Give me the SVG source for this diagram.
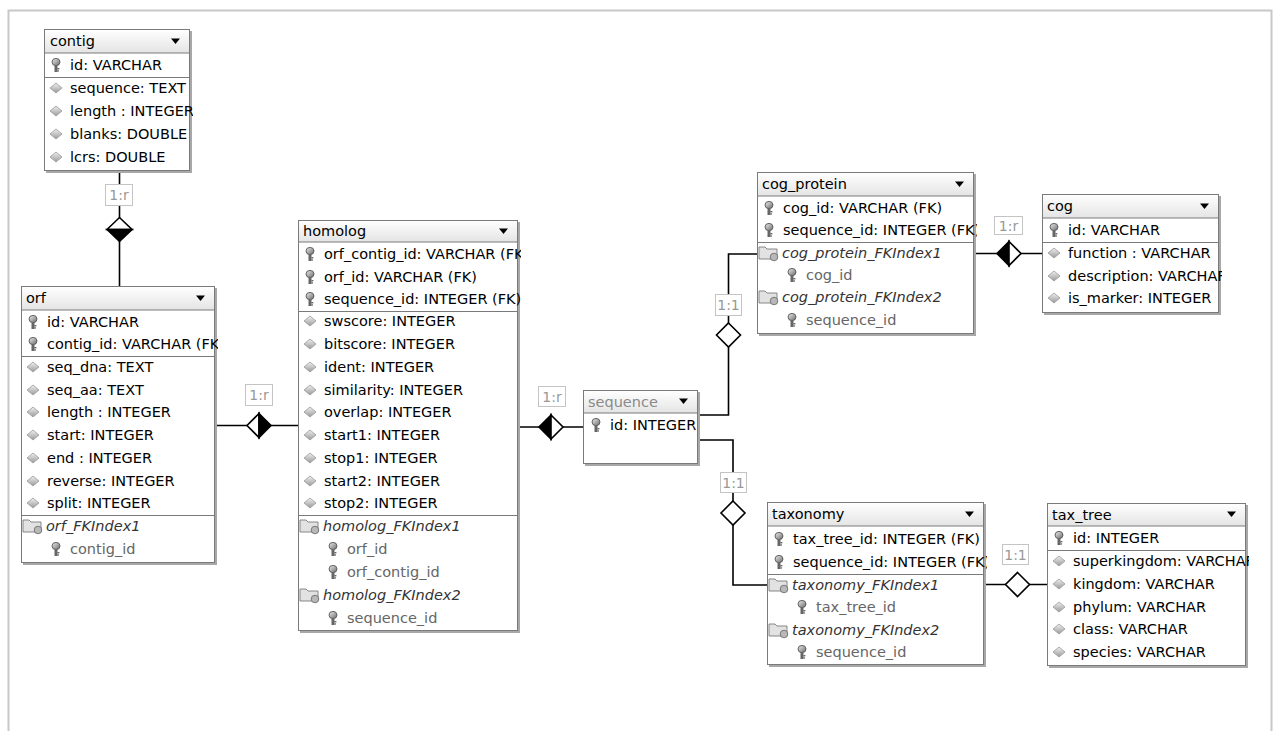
<svg xmlns="http://www.w3.org/2000/svg" xmlns:xlink="http://www.w3.org/1999/xlink" width="1273" height="731" viewBox="0 0 1273 731">
<style>
.t{font-family:"DejaVu Sans","Liberation Sans",sans-serif;font-size:14.5px;fill:#000}
.hg{fill:#8a8a8a}
.ix{font-style:italic;fill:#333}
.ik{fill:#666}
.box{fill:#fff;stroke:#7a7a7a;stroke-width:1}
.shadow{fill:#a8a8a8}
.hdr{fill:url(#hgrad);stroke:#7a7a7a;stroke-width:1}
.sep{stroke:#7a7a7a;stroke-width:1}
.ln{fill:none;stroke:#000;stroke-width:1.6}
.dm{stroke:#000;stroke-width:1.6}
.lb{fill:#fff;stroke:#c4c4c4;stroke-width:1}
.lt{font-family:"DejaVu Sans","Liberation Sans",sans-serif;font-size:14px;fill:#999;text-anchor:middle}
.tri{fill:#000}
</style>
<defs>
<linearGradient id="hgrad" x1="0" y1="0" x2="0" y2="1"><stop offset="0" stop-color="#ffffff"/><stop offset="1" stop-color="#e4e4e4"/></linearGradient>
<linearGradient id="kg" x1="0" y1="0" x2="1" y2="1"><stop offset="0" stop-color="#eeeeee"/><stop offset="1" stop-color="#6a6a6a"/></linearGradient>
<linearGradient id="dg" x1="0" y1="0" x2="0" y2="1"><stop offset="0" stop-color="#f0f0f0"/><stop offset="1" stop-color="#9a9a9a"/></linearGradient>
<g id="key"><ellipse cx="0" cy="-3" rx="4" ry="3.6" fill="url(#kg)" stroke="#555" stroke-width="0.9"/><rect x="-1.5" y="0" width="3" height="7" fill="#666"/><rect x="1.4" y="3" width="2" height="1.4" fill="#666"/><rect x="1.4" y="5.3" width="1.6" height="1.3" fill="#666"/></g>
<g id="att"><polygon points="0,-5 6,0 0,5 -6,0" fill="url(#dg)" stroke="#999" stroke-width="0.8"/></g>
<g id="fld"><path d="M-9,-6 h6 l2,2 h10 v10 h-18 z" fill="#e2e2e2" stroke="#7a7a7a" stroke-width="0.9"/><circle cx="6" cy="4" r="3.8" fill="#b8b8b8" stroke="#666" stroke-width="0.8"/></g>
<clipPath id="c-contig"><rect x="44" y="29" width="149" height="145"/></clipPath>
<clipPath id="c-orf"><rect x="21" y="286" width="197" height="280"/></clipPath>
<clipPath id="c-homolog"><rect x="298" y="220" width="223" height="414"/></clipPath>
<clipPath id="c-sequence"><rect x="583" y="390" width="118" height="77"/></clipPath>
<clipPath id="c-cogp"><rect x="757" y="172" width="220" height="165"/></clipPath>
<clipPath id="c-cog"><rect x="1042" y="194" width="180" height="122"/></clipPath>
<clipPath id="c-tax"><rect x="767" y="502" width="220" height="166"/></clipPath>
<clipPath id="c-taxtree"><rect x="1047" y="503" width="202" height="166"/></clipPath>
</defs>
<rect x="0" y="0" width="1273" height="731" fill="#fff"/>
<path d="M8.5,731 V10.5 H1271.5 V731" fill="none" stroke="#c8c8c8" stroke-width="2"/>

<g id="connectors">
<line class="ln" x1="119.5" y1="172" x2="119.5" y2="286"/>
<rect class="lb" x="105.5" y="184.5" width="27" height="21"/>
<text class="lt" x="119" y="200">1:r</text>
<polygon points="107,229.5 119.5,217.5 132,229.5" fill="#fff" class="dm"/>
<polygon points="107,229.5 119.5,241.5 132,229.5" fill="#000" class="dm"/>
<line class="ln" x1="214" y1="425.5" x2="298" y2="425.5"/>
<rect class="lb" x="245.5" y="384.5" width="27" height="21"/>
<text class="lt" x="259" y="400">1:r</text>
<polygon points="259,413.5 247,425.5 259,437.5" fill="#fff" class="dm"/>
<polygon points="259,413.5 271,425.5 259,437.5" fill="#000" class="dm"/>
<line class="ln" x1="517" y1="427" x2="583" y2="427"/>
<rect class="lb" x="538.5" y="386.5" width="27" height="20"/>
<text class="lt" x="552" y="401.5">1:r</text>
<polygon points="551,415 539,427 551,439" fill="#000" class="dm"/>
<polygon points="551,415 563,427 551,439" fill="#fff" class="dm"/>
<polyline class="ln" points="697,415 728.5,415 728.5,254 757,254"/>
<rect class="lb" x="715.5" y="294.5" width="26" height="21"/>
<text class="lt" x="728.5" y="310">1:1</text>
<polygon points="728.5,323 740.5,335 728.5,347 716.5,335" fill="#fff" class="dm"/>
<polyline class="ln" points="697,440 733,440 733,585 767,585"/>
<rect class="lb" x="720.5" y="472.5" width="26" height="20"/>
<text class="lt" x="733.5" y="487.5">1:1</text>
<polygon points="733,501 745,513 733,525 721,513" fill="#fff" class="dm"/>
<line class="ln" x1="973" y1="253.5" x2="1042" y2="253.5"/>
<rect class="lb" x="994.5" y="216.5" width="28" height="18"/>
<text class="lt" x="1008.5" y="230.5">1:r</text>
<polygon points="1009,241.5 997,253.5 1009,265.5" fill="#000" class="dm"/>
<polygon points="1009,241.5 1021,253.5 1009,265.5" fill="#fff" class="dm"/>
<line class="ln" x1="983" y1="584.5" x2="1047" y2="584.5"/>
<rect class="lb" x="1002.5" y="544.5" width="26" height="20"/>
<text class="lt" x="1015.5" y="559.5">1:1</text>
<polygon points="1017.5,572.5 1029.5,584.5 1017.5,596.5 1005.5,584.5" fill="#fff" class="dm"/>
</g>

<g id="contig">
<rect class="shadow" x="46" y="31" width="146" height="142"/>
<rect class="box" x="44.5" y="29.5" width="145" height="141"/>
<rect class="hdr" x="44.5" y="29.5" width="145" height="23.5"/>
<polygon class="tri" points="171,38.5 180,38.5 175.5,44"/>
<g clip-path="url(#c-contig)">
<text class="t" x="50" y="46">contig</text>
<use href="#key" x="56" y="65"/><text class="t" x="70" y="70">id: VARCHAR</text>
<line class="sep" x1="44.5" y1="77.5" x2="189.5" y2="77.5"/>
<use href="#att" x="56" y="88"/><text class="t" x="70" y="93">sequence: TEXT</text>
<use href="#att" x="56" y="111"/><text class="t" x="70" y="116">length : INTEGER</text>
<use href="#att" x="56" y="134"/><text class="t" x="70" y="139">blanks: DOUBLE</text>
<use href="#att" x="56" y="157"/><text class="t" x="70" y="162">lcrs: DOUBLE</text>
</g>
</g>

<g id="orf">
<rect class="shadow" x="23" y="288" width="194" height="277"/>
<rect class="box" x="21.5" y="286.5" width="193" height="276"/>
<rect class="hdr" x="21.5" y="286.5" width="193" height="23.5"/>
<polygon class="tri" points="196,295.5 205,295.5 200.5,301"/>
<g clip-path="url(#c-orf)">
<text class="t" x="26" y="303">orf</text>
<use href="#key" x="33" y="322"/><text class="t" x="47" y="327">id: VARCHAR</text>
<use href="#key" x="33" y="344"/><text class="t" x="47" y="349">contig_id: VARCHAR (FK)</text>
<line class="sep" x1="21.5" y1="356.5" x2="214.5" y2="356.5"/>
<use href="#att" x="33" y="367"/><text class="t" x="47" y="372">seq_dna: TEXT</text>
<use href="#att" x="33" y="390"/><text class="t" x="47" y="395">seq_aa: TEXT</text>
<use href="#att" x="33" y="412"/><text class="t" x="47" y="417">length : INTEGER</text>
<use href="#att" x="33" y="435"/><text class="t" x="47" y="440">start: INTEGER</text>
<use href="#att" x="33" y="458"/><text class="t" x="47" y="463">end : INTEGER</text>
<use href="#att" x="33" y="481"/><text class="t" x="47" y="486">reverse: INTEGER</text>
<use href="#att" x="33" y="503"/><text class="t" x="47" y="508">split: INTEGER</text>
<line class="sep" x1="21.5" y1="515.5" x2="214.5" y2="515.5"/>
<use href="#fld" x="32" y="526"/><text class="t ix" x="46" y="531">orf_FKIndex1</text>
<use href="#key" x="56" y="549"/><text class="t ik" x="70" y="554">contig_id</text>
</g>
</g>

<g id="homolog">
<rect class="shadow" x="300" y="222" width="220" height="411"/>
<rect class="box" x="298.5" y="220.5" width="219" height="410"/>
<rect class="hdr" x="298.5" y="220.5" width="219" height="21.5"/>
<polygon class="tri" points="499,228.5 508,228.5 503.5,234"/>
<g clip-path="url(#c-homolog)">
<text class="t" x="303" y="236">homolog</text>
<use href="#key" x="310" y="254"/><text class="t" x="324" y="259">orf_contig_id: VARCHAR (FK)</text>
<use href="#key" x="310" y="277"/><text class="t" x="324" y="282">orf_id: VARCHAR (FK)</text>
<use href="#key" x="310" y="299"/><text class="t" x="324" y="304">sequence_id: INTEGER (FK)</text>
<line class="sep" x1="298.5" y1="311.5" x2="517.5" y2="311.5"/>
<use href="#att" x="310" y="321"/><text class="t" x="324" y="326">swscore: INTEGER</text>
<use href="#att" x="310" y="344"/><text class="t" x="324" y="349">bitscore: INTEGER</text>
<use href="#att" x="310" y="367"/><text class="t" x="324" y="372">ident: INTEGER</text>
<use href="#att" x="310" y="390"/><text class="t" x="324" y="395">similarity: INTEGER</text>
<use href="#att" x="310" y="412"/><text class="t" x="324" y="417">overlap: INTEGER</text>
<use href="#att" x="310" y="435"/><text class="t" x="324" y="440">start1: INTEGER</text>
<use href="#att" x="310" y="458"/><text class="t" x="324" y="463">stop1: INTEGER</text>
<use href="#att" x="310" y="481"/><text class="t" x="324" y="486">start2: INTEGER</text>
<use href="#att" x="310" y="503"/><text class="t" x="324" y="508">stop2: INTEGER</text>
<line class="sep" x1="298.5" y1="515.5" x2="517.5" y2="515.5"/>
<use href="#fld" x="309" y="526"/><text class="t ix" x="323" y="531">homolog_FKIndex1</text>
<use href="#key" x="333" y="549"/><text class="t ik" x="347" y="554">orf_id</text>
<use href="#key" x="333" y="572"/><text class="t ik" x="347" y="577">orf_contig_id</text>
<use href="#fld" x="309" y="595"/><text class="t ix" x="323" y="600">homolog_FKIndex2</text>
<use href="#key" x="333" y="618"/><text class="t ik" x="347" y="623">sequence_id</text>
</g>
</g>

<g id="sequence">
<rect class="shadow" x="585" y="392" width="115" height="74"/>
<rect class="box" x="583.5" y="390.5" width="114" height="73"/>
<rect class="hdr" x="583.5" y="390.5" width="114" height="22.5"/>
<polygon class="tri" points="679,398.5 688,398.5 683.5,404"/>
<g clip-path="url(#c-sequence)">
<text class="t hg" x="588" y="407">sequence</text>
<use href="#key" x="596" y="425"/><text class="t" x="610" y="430">id: INTEGER</text>
</g>
</g>

<g id="cog_protein">
<rect class="shadow" x="759" y="174" width="217" height="162"/>
<rect class="box" x="757.5" y="172.5" width="216" height="161"/>
<rect class="hdr" x="757.5" y="172.5" width="216" height="23.5"/>
<polygon class="tri" points="955,181.5 964,181.5 959.5,187"/>
<g clip-path="url(#c-cogp)">
<text class="t" x="762" y="189">cog_protein</text>
<use href="#key" x="769" y="208"/><text class="t" x="783" y="213">cog_id: VARCHAR (FK)</text>
<use href="#key" x="769" y="230"/><text class="t" x="783" y="235">sequence_id: INTEGER (FK)</text>
<line class="sep" x1="757.5" y1="242.5" x2="973.5" y2="242.5"/>
<use href="#fld" x="768" y="253"/><text class="t ix" x="782" y="258">cog_protein_FKIndex1</text>
<use href="#key" x="792" y="275"/><text class="t ik" x="806" y="280">cog_id</text>
<use href="#fld" x="768" y="297"/><text class="t ix" x="782" y="302">cog_protein_FKIndex2</text>
<use href="#key" x="792" y="320"/><text class="t ik" x="806" y="325">sequence_id</text>
</g>
</g>

<g id="cog">
<rect class="shadow" x="1044" y="196" width="177" height="119"/>
<rect class="box" x="1042.5" y="194.5" width="176" height="118"/>
<rect class="hdr" x="1042.5" y="194.5" width="176" height="23.5"/>
<polygon class="tri" points="1200,203.5 1209,203.5 1204.5,209"/>
<g clip-path="url(#c-cog)">
<text class="t" x="1047" y="211">cog</text>
<use href="#key" x="1054" y="230"/><text class="t" x="1068" y="235">id: VARCHAR</text>
<line class="sep" x1="1042.5" y1="242.5" x2="1218.5" y2="242.5"/>
<use href="#att" x="1054" y="253"/><text class="t" x="1068" y="258">function : VARCHAR</text>
<use href="#att" x="1054" y="276"/><text class="t" x="1068" y="281">description: VARCHAR</text>
<use href="#att" x="1054" y="298"/><text class="t" x="1068" y="303">is_marker: INTEGER</text>
</g>
</g>

<g id="taxonomy">
<rect class="shadow" x="769" y="504" width="217" height="163"/>
<rect class="box" x="767.5" y="502.5" width="216" height="162"/>
<rect class="hdr" x="767.5" y="502.5" width="216" height="23.5"/>
<polygon class="tri" points="965,511.5 974,511.5 969.5,517"/>
<g clip-path="url(#c-tax)">
<text class="t" x="772" y="519">taxonomy</text>
<use href="#key" x="779" y="539"/><text class="t" x="793" y="544">tax_tree_id: INTEGER (FK)</text>
<use href="#key" x="779" y="562"/><text class="t" x="793" y="567">sequence_id: INTEGER (FK)</text>
<line class="sep" x1="767.5" y1="574.5" x2="983.5" y2="574.5"/>
<use href="#fld" x="778" y="585"/><text class="t ix" x="792" y="590">taxonomy_FKIndex1</text>
<use href="#key" x="802" y="607"/><text class="t ik" x="816" y="612">tax_tree_id</text>
<use href="#fld" x="778" y="630"/><text class="t ix" x="792" y="635">taxonomy_FKIndex2</text>
<use href="#key" x="802" y="652"/><text class="t ik" x="816" y="657">sequence_id</text>
</g>
</g>

<g id="tax_tree">
<rect class="shadow" x="1049" y="505" width="199" height="163"/>
<rect class="box" x="1047.5" y="503.5" width="198" height="162"/>
<rect class="hdr" x="1047.5" y="503.5" width="198" height="22.5"/>
<polygon class="tri" points="1227,511.5 1236,511.5 1231.5,517"/>
<g clip-path="url(#c-taxtree)">
<text class="t" x="1052" y="520">tax_tree</text>
<use href="#key" x="1059" y="538"/><text class="t" x="1073" y="543">id: INTEGER</text>
<line class="sep" x1="1047.5" y1="550.5" x2="1245.5" y2="550.5"/>
<use href="#att" x="1059" y="561"/><text class="t" x="1073" y="566">superkingdom: VARCHAR</text>
<use href="#att" x="1059" y="584"/><text class="t" x="1073" y="589">kingdom: VARCHAR</text>
<use href="#att" x="1059" y="607"/><text class="t" x="1073" y="612">phylum: VARCHAR</text>
<use href="#att" x="1059" y="629"/><text class="t" x="1073" y="634">class: VARCHAR</text>
<use href="#att" x="1059" y="652"/><text class="t" x="1073" y="657">species: VARCHAR</text>
</g>
</g>
</svg>
